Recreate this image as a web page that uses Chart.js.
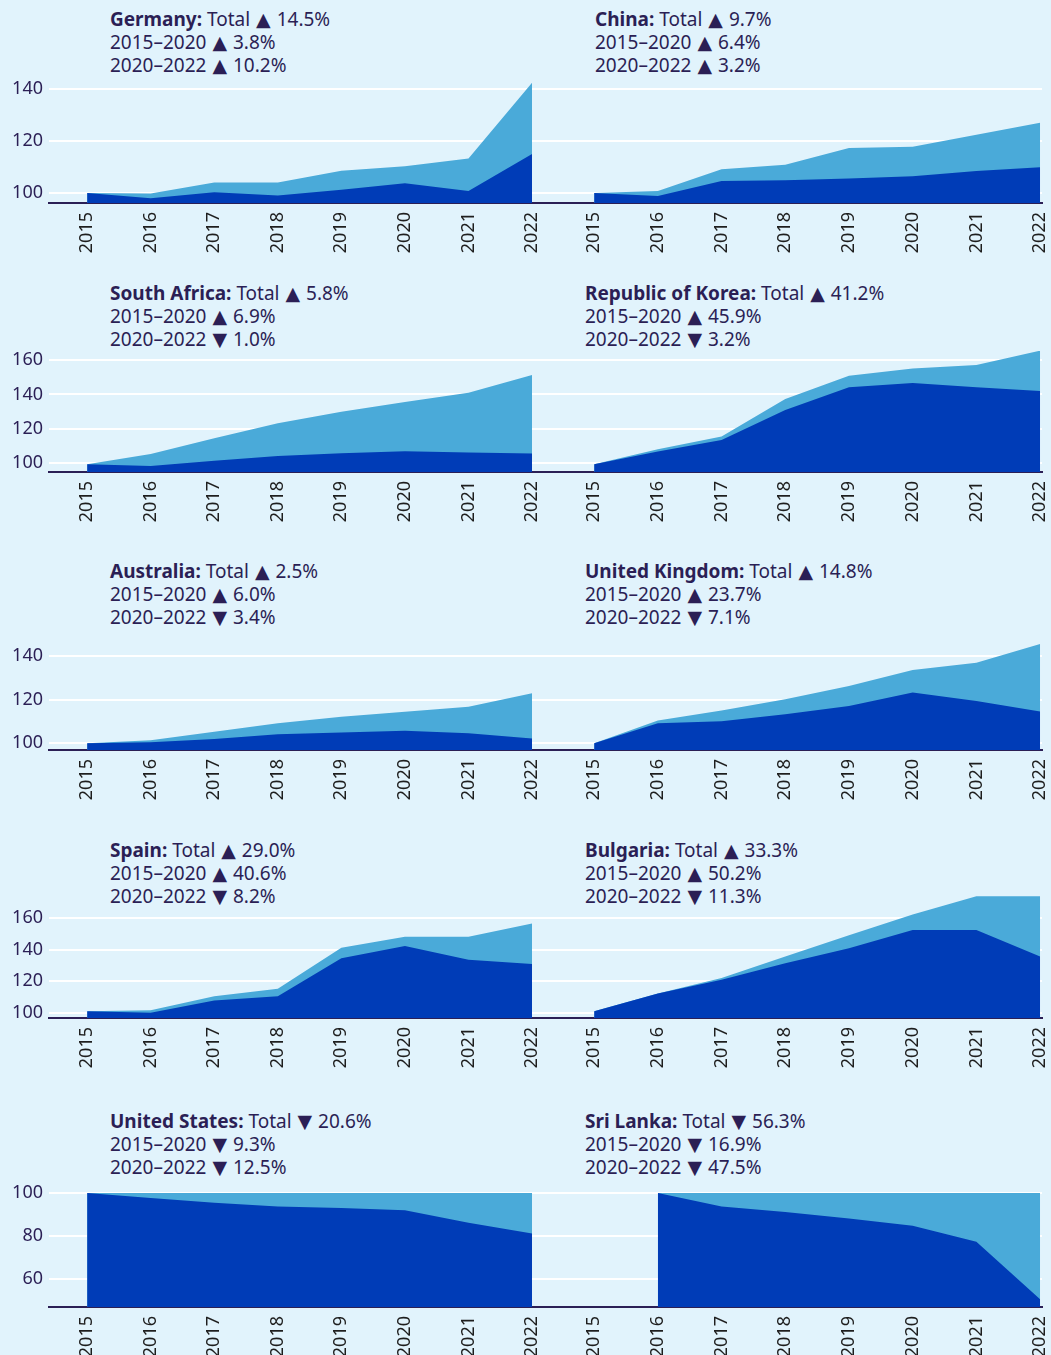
<!DOCTYPE html>
<html>
<head>
<meta charset="utf-8">
<script src="https://cdn.jsdelivr.net/npm/chart.js@4.4.1/dist/chart.umd.min.js"></script>
<style>
body{margin:0;background:#e1f3fc;width:1051px;height:1355px;overflow:hidden;position:relative;font-family:'Noto Sans',sans-serif}
.titulo{position:absolute;font-size:19px;line-height:23px;color:#2b1f55;white-space:nowrap}
.titulo b{font-weight:700}
.seta{font-family:'DejaVu Sans',sans-serif;font-size:19px;line-height:0;margin:0 1px}
canvas{position:absolute}
</style>
</head>
<body>
<script>

let anos=[2015,2016,2017,2018,2019,2020,2021,2022]

let paises=['Germany','China','South Africa','Republic of Korea','Australia','United Kingdom','Spain','Bulgaria','United States','Sri Lanka']
let variacaoTotal=[14.5,9.7,5.8,41.2,2.5,14.8,29.0,33.3,-20.6,-56.3]
let variacao1520=[3.8,6.4,6.9,45.9,6.0,23.7,40.6,50.2,-9.3,-16.9]
let variacao2022=[10.2,3.2,-1.0,-3.2,-3.4,-7.1,-8.2,-11.3,-12.5,-47.5]

// dark series (index) and light series (upper band)
let germanyIndex=[100,98,100.3,99,101.2,103.7,100.8,115]
let germanyBand=[100,99.8,104,104,108.6,110.3,113.3,142.4]
let chinaIndex=[100,98.8,104.6,104.9,105.6,106.4,108.5,109.9]
let chinaBand=[100,100.8,109.1,110.9,117.3,117.8,122.4,127]
let southAfricaIndex=[99.5,98.5,101.5,104.3,105.8,107,106.2,105.7]
let southAfricaBand=[99.5,105.4,114.5,123.2,130,135.6,141,151.3]
let koreaIndex=[99.5,106.8,113.5,131,144.1,146.6,144.1,142]
let koreaBand=[99.5,108.1,115.5,137.4,150.9,155,157.1,165.4]
let australiaIndex=[100,100.5,102,104.1,104.9,105.7,104.6,102.2]
let australiaBand=[100,101.4,105.3,109.2,112.2,114.5,116.8,122.9]
let ukIndex=[100,109.2,110.1,113.3,117.1,123.3,119.4,114.6]
let ukBand=[100,110.4,115,120.2,126.3,133.6,136.9,145.5]
let spainIndex=[101,100,107.8,110.5,134.6,142.4,133.6,131]
let spainBand=[101,101.5,110.5,115.3,141.3,148.3,148.3,156.7]
let bulgariaIndex=[101,112.2,121,131.5,140.9,152.5,152.5,135.7]
let bulgariaBand=[101,112.2,122,135.7,149.3,162.5,174,174]
let usIndex=[100,97.7,95.5,93.8,93.1,92,86.2,81.2]
let usBand=[100,100,100,100,100,100,100,100]
let sriLankaIndex=[null,100,93.8,91.2,88.2,84.8,77.4,50.8]
let sriLankaBand=[null,100,100,100,100,100,100,100]

let ticksLinha1=[100,120,140]
let ticksLinha2=[100,120,140,160]
let ticksLinha3=[100,120,140]
let ticksLinha4=[100,120,140,160]
let ticksLinha5=[60,80,100]

let linhas=[
{top:82,bottom:203,min:96.15,max:142.69,ticks:ticksLinha1,tituloY:8},
{top:351,bottom:472,min:94.95,max:165.2,ticks:ticksLinha2,tituloY:282},
{top:643,bottom:750,min:96.93,max:145.95,ticks:ticksLinha3,tituloY:560},
{top:896,bottom:1018,min:96.63,max:174.19,ticks:ticksLinha4,tituloY:839},
{top:1193,bottom:1307,min:47.16,max:100,ticks:ticksLinha5,tituloY:1110}
]

let series=[
[germanyIndex,germanyBand],[chinaIndex,chinaBand],
[southAfricaIndex,southAfricaBand],[koreaIndex,koreaBand],
[australiaIndex,australiaBand],[ukIndex,ukBand],
[spainIndex,spainBand],[bulgariaIndex,bulgariaBand],
[usIndex,usBand],[sriLankaIndex,sriLankaBand]
]

let corTexto='#2b1f55'
let fonte="'Noto Sans', sans-serif"

function seta(v){
return `<span class="seta">${v<0?'▼':'▲'}</span> `+Math.abs(v).toFixed(1)+'%'
}

function pontos(arr){
return anos.map((a,i)=>({x:a,y:arr[i]}))
}

function criarPainel(n){

let linha=linhas[Math.floor(n/2)]
let lado=n%2

let t=document.createElement('div')
t.className='titulo'
t.style.top=linha.tituloY+'px'
t.style.left=(lado==0?110:(n==1?595:585))+'px'
t.innerHTML=`<b>${paises[n]}:</b> Total ${seta(variacaoTotal[n])}<br>2015–2020 ${seta(variacao1520[n])}<br>2020–2022 ${seta(variacao2022[n])}`
document.body.appendChild(t)

let padTop=15
let eixoH=70
let largura=lado==0?545:518

let c=document.createElement('canvas')
c.width=largura
c.height=linha.bottom-linha.top+padTop+eixoH
c.style.left=(lado==0?0:533)+'px'
c.style.top=(linha.top-padTop)+'px'
document.body.appendChild(c)

new Chart(c,{
type:'line',
data:{
datasets:[{
data:pontos(series[n][0]),
backgroundColor:'#003cb7',
borderWidth:0,
pointRadius:0,
fill:'start',
tension:0
},{
data:pontos(series[n][1]),
backgroundColor:'#4aaad9',
borderWidth:0,
pointRadius:0,
fill:'start',
tension:0
}]
},
options:{
responsive:false,
animation:false,
devicePixelRatio:1,
layout:{padding:{top:padTop,left:0,right:lado==0?12:9,bottom:0}},
plugins:{legend:{display:false},tooltip:{enabled:false}},
scales:{
x:{
type:'linear',
min:lado==0?2014.4:2014.04,
max:lado==0?2022.015:2022.03,
z:1,
grid:{display:false},
border:{display:true,color:corTexto,width:2},
afterBuildTicks:s=>{s.ticks=anos.map(v=>({value:v}))},
afterFit:s=>{s.height=eixoH;s.paddingLeft=0;s.paddingRight=0},
ticks:{
minRotation:90,
maxRotation:90,
autoSkip:false,
padding:1,
color:'#1e1e1e',
font:{family:fonte,size:18},
callback:v=>String(v)
}
},
y:{
min:linha.min,
max:linha.max,
afterBuildTicks:s=>{s.ticks=linha.ticks.map(v=>({value:v}))},
afterFit:s=>{s.width=lado==0?49:0;s.paddingTop=0;s.paddingBottom=0},
grid:{color:'#ffffff',lineWidth:2,drawTicks:false},
border:{display:false},
ticks:{
display:lado==0,
padding:6,
color:corTexto,
font:{family:fonte,size:18}
}
}
}
}
})

}

for(let n=0;n<10;n++){
criarPainel(n)
}

</script>
</body>
</html>
